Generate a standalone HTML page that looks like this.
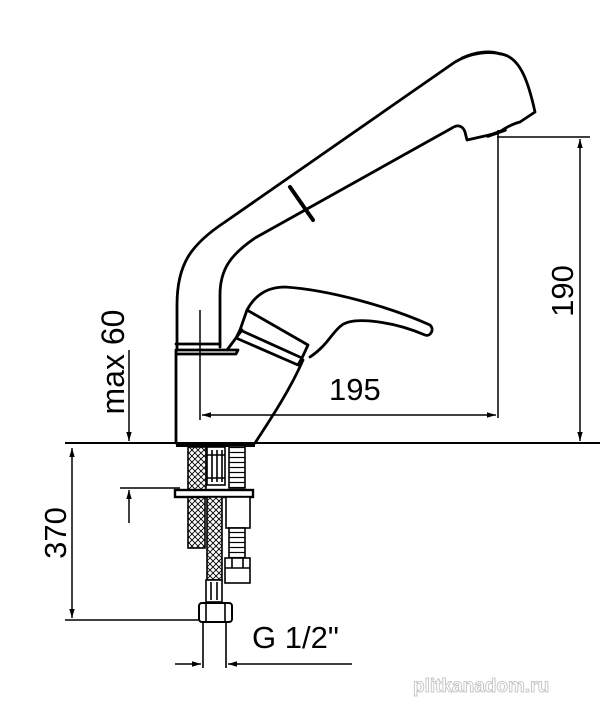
<!DOCTYPE html>
<html><head><meta charset="utf-8"><style>
html,body{margin:0;padding:0;background:#fff;}
svg{display:block;}
text{font-family:"Liberation Sans",sans-serif;fill:#000;}
</style></head><body>
<svg width="600" height="701" viewBox="0 0 600 701" xmlns="http://www.w3.org/2000/svg">
<defs>
<pattern id="hx" width="6" height="6" patternUnits="userSpaceOnUse">
<rect width="6" height="6" fill="#fff"/>
<path d="M0 0L6 6M6 0L0 6" stroke="#000" stroke-width="0.9"/>
</pattern>
<pattern id="hl" width="6" height="5" patternUnits="userSpaceOnUse">
<rect width="6" height="5" fill="#fff"/>
<path d="M0 2.5H6" stroke="#000" stroke-width="1.2"/>
</pattern>
<marker id="a" viewBox="0 0 10 10" refX="10" refY="5" markerWidth="9" markerHeight="9" orient="auto-start-reverse" markerUnits="userSpaceOnUse">
<path d="M0 2L10 5L0 8z" fill="#000"/>
</marker>
</defs>
<g fill="none" stroke="#000" stroke-width="2.8" stroke-linejoin="round" stroke-linecap="round">
<path d="M177 350 L177 305 C177 265 190 245 225 222 L455 62 C470 53 490 50 505 55 C520 60 528 80 535 112 L520 122 C512 124 505 128 498 133"/>
<path d="M462 58 C475 52 490 50 500 54"/>
<path d="M220 347 L220 295 C220 270 230 255 255 238 L452 128 C458 124 463 126 465 132 L467 140 L498 133"/>
<path d="M488 136 L505 130" stroke-width="3.5"/>
<path d="M290 187 L313 220" stroke-width="4"/>
<path d="M176 350 L176 443 M176 350 L238 350 L236 354 L176 354"/>
<path d="M176 344 L220 344"/>
<path d="M227 350 L242 330"/>
<path d="M303 360 C290 390 270 420 255 443"/>
<path d="M247 310 C255 295 268 287 285 287 C330 290 390 307 430 325 C435 330 430 337 425 335 C395 322 355 316 342 325 C332 332 328 345 310 357"/>
<path d="M247 310 L240 330 L302 358 L308 345 Z"/>
<path d="M240 330 L236 338 L298 365 L302 358"/>
</g>
<path d="M65 443 H600" stroke="#000" stroke-width="2"/>
<rect x="176" y="443" width="79" height="4" fill="#000"/>
<g stroke="#000" stroke-width="1.6">
<rect x="188" y="447" width="18" height="43" fill="url(#hx)"/>
<rect x="188" y="497" width="17" height="51" fill="url(#hx)"/>
<rect x="207" y="447" width="18" height="38" fill="#fff"/>
<path d="M212 450V482M217 450V482M222 450V482M207 455H225M207 478H225" fill="none"/>
<rect x="229" y="446" width="16" height="42" fill="url(#hl)"/>
<rect x="175" y="490" width="78" height="7" fill="#fff" stroke-width="2.4"/>
<rect x="207" y="497" width="15" height="83" fill="url(#hx)"/>
<rect x="206" y="580" width="16" height="22" fill="#fff"/>
<path d="M211 582V600M217 582V600" fill="none"/>
<rect x="226" y="497" width="24" height="31" fill="#fff"/>
<rect x="229" y="528" width="16" height="30" fill="url(#hl)"/>
<rect x="225" y="558" width="25" height="25" fill="#fff"/>
<path d="M225 568H250M232 558V568M243 558V568" fill="none"/>
<rect x="199" y="603" width="33" height="19" rx="3" fill="#fff" stroke-width="2"/>
<path d="M206 603V622M225 603V622" fill="none"/>
<path d="M203 622V668M226 622V668" fill="none"/>
</g>
<g stroke="#000" stroke-width="1.5" fill="none">
<path d="M498 130V418"/>
<path d="M497 137H590"/>
<path d="M580 139V441" marker-start="url(#a)" marker-end="url(#a)"/>
<path d="M200 310V420"/>
<path d="M202 415H496" marker-start="url(#a)" marker-end="url(#a)"/>
<path d="M129 350V441" marker-end="url(#a)"/>
<path d="M129 523V490" marker-end="url(#a)"/>
<path d="M120 488H180"/>
<path d="M72 448V618" marker-start="url(#a)" marker-end="url(#a)"/>
<path d="M65 620H200"/>
<path d="M175 664H201" marker-end="url(#a)"/>
<path d="M352 664H228" marker-end="url(#a)"/>
</g>
<text x="329" y="400" font-size="31">195</text>
<text transform="translate(573,291) rotate(-90)" font-size="31" text-anchor="middle">190</text>
<text transform="translate(124,362) rotate(-90)" font-size="32" text-anchor="middle">max 60</text>
<text transform="translate(66,533) rotate(-90)" font-size="31" text-anchor="middle">370</text>
<text x="252" y="648" font-size="31">G 1/2"</text>
<text x="413" y="692" font-size="19" font-weight="bold" style="fill:#fff;stroke:#bbb;stroke-width:0.8">plitkanadom.ru</text>
</svg>
</body></html>
